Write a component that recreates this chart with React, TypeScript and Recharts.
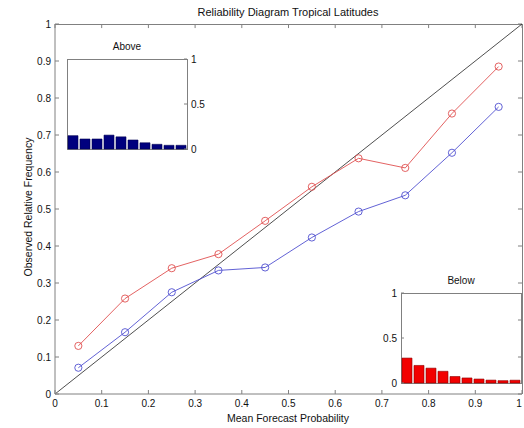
import React from 'react';
import { ComposedChart, BarChart, Bar, Line, XAxis, YAxis, ReferenceLine } from 'recharts';

// bin centres of the forecast probability
const binCenters = [0.05, 0.15, 0.25, 0.35, 0.45, 0.55, 0.65, 0.75, 0.85, 0.95];
// observed relative frequency, red and blue curves
const redFreq = [0.13, 0.258, 0.34, 0.378, 0.468, 0.56, 0.637, 0.611, 0.758, 0.885];
const blueFreq = [0.071, 0.167, 0.275, 0.334, 0.342, 0.423, 0.493, 0.537, 0.652, 0.776];
// inset histograms (share of forecasts per bin)
const aboveCounts = [0.148, 0.111, 0.111, 0.154, 0.135, 0.1, 0.069, 0.052, 0.041, 0.041];
const belowCounts = [0.277, 0.195, 0.165, 0.13, 0.072, 0.056, 0.044, 0.032, 0.026, 0.031];

const mainTicks = [0, 0.1, 0.2, 0.3, 0.4, 0.5, 0.6, 0.7, 0.8, 0.9, 1];
const insetTicks = [0, 0.5, 1];

const FONT = '"Liberation Sans", Arial, sans-serif';
const AXIS = '#808080';
const RED = '#e05050';
const BLUE = '#5050d0';

const mainData = binCenters.map((p, i) => ({ p, red: redFreq[i], blue: blueFreq[i] }));
const aboveData = binCenters.map((p, i) => ({ p, v: aboveCounts[i] }));
const belowData = binCenters.map((p, i) => ({ p, v: belowCounts[i] }));

const tickStyle = { fontSize: 10, fill: '#111', fontFamily: FONT };

// bottom tick label; the last one is nudged so it stays inside the picture
const BottomTick = ({ x, y, payload }: any) => (
  <text x={payload.value === 1 ? x - 3 : x} y={y} dy="0.71em" textAnchor="middle" {...tickStyle}>
    {String(payload.value)}
  </text>
);

// small histogram drawn over the main plot; plotLeft/plotTop is the inner box
const Inset = ({ data, plotLeft, plotTop, title, color, edge, side }: any) => {
  const left = side === 'left' ? plotLeft - 30 : plotLeft;
  return (
    <>
      <div style={{ position: 'absolute', left: plotLeft, top: plotTop - 18, width: 120, textAlign: 'center', fontSize: 10, lineHeight: '12px' }}>
        {title}
      </div>
      <div style={{ position: 'absolute', left: plotLeft, top: plotTop, width: 121, height: 91, boxSizing: 'border-box', border: `1px solid ${AXIS}` }} />
      <div style={{ position: 'absolute', left, top: plotTop - 6 }}>
        <BarChart width={150} height={102} data={data} margin={{ top: 6, right: 0, bottom: 6, left: 0 }} barCategoryGap={1}>
          <XAxis dataKey="p" hide />
          <YAxis
            orientation={side}
            type="number"
            domain={[0, 1]}
            ticks={insetTicks}
            width={30}
            tick={tickStyle}
            tickSize={-3}
            tickMargin={7}
            tickLine={{ stroke: AXIS }}
            axisLine={false}
            tickFormatter={(v: number) => String(v)}
          />
          <Bar dataKey="v" fill={color} stroke={edge} strokeWidth={0.6} isAnimationActive={false} />
        </BarChart>
      </div>
    </>
  );
};

export default function App() {
  return (
    <div style={{ position: 'absolute', left: 0, top: 0, width: 524, height: 428, background: '#fff', fontFamily: FONT, color: '#111', overflow: 'hidden' }}>
      <div style={{ position: 'absolute', left: 0, top: 5, width: 576, textAlign: 'center', fontSize: 11, lineHeight: '14px' }}>
        Reliability Diagram Tropical Latitudes
      </div>
      <div style={{ position: 'absolute', left: 0, top: 411, width: 576, textAlign: 'center', fontSize: 10.5, lineHeight: '14px' }}>
        Mean Forecast Probability
      </div>
      <div style={{ position: 'absolute', left: -72, top: 200, width: 200, height: 14, textAlign: 'center', fontSize: 10.5, lineHeight: '14px', transform: 'rotate(-90deg)' }}>
        Observed Relative Frequency
      </div>
      {/* top and right edges of the axes box */}
      <div style={{ position: 'absolute', left: 55, top: 24, width: 468, height: 370, boxSizing: 'border-box', borderTop: `1px solid ${AXIS}`, borderRight: `1px solid ${AXIS}` }} />
      <div style={{ position: 'absolute', left: 0, top: 0 }}>
        <ComposedChart width={524} height={428} data={mainData} margin={{ top: 24, right: 2, bottom: 4, left: 0 }}>
          <XAxis
            dataKey="p"
            type="number"
            domain={[0, 1]}
            ticks={mainTicks}
            height={30}
            tick={<BottomTick />}
            tickSize={-4}
            tickMargin={10}
            tickLine={{ stroke: AXIS }}
            axisLine={{ stroke: AXIS }}
            interval={0}
          />
          <YAxis
            type="number"
            domain={[0, 1]}
            ticks={mainTicks}
            width={55}
            tick={tickStyle}
            tickSize={-4}
            tickMargin={8}
            tickLine={{ stroke: AXIS }}
            axisLine={{ stroke: AXIS }}
            tickFormatter={(v: number) => String(v)}
            interval={0}
          />
          {/* inward ticks on the top and right edges */}
          {mainTicks.map((t) => (
            <ReferenceLine key={'t' + t} segment={[{ x: t, y: 1 }, { x: t, y: 0.989 }]} stroke={AXIS} ifOverflow="visible" />
          ))}
          {mainTicks.map((t) => (
            <ReferenceLine key={'r' + t} segment={[{ x: 1, y: t }, { x: 0.9914, y: t }]} stroke={AXIS} ifOverflow="visible" />
          ))}
          <ReferenceLine segment={[{ x: 0, y: 0 }, { x: 1, y: 1 }]} stroke="#222" strokeWidth={0.8} />
          <Line dataKey="red" stroke={RED} strokeWidth={0.9} dot={{ r: 3.6, fill: 'none', stroke: RED, strokeWidth: 0.9 }} isAnimationActive={false} />
          <Line dataKey="blue" stroke={BLUE} strokeWidth={0.9} dot={{ r: 3.6, fill: 'none', stroke: BLUE, strokeWidth: 0.9 }} isAnimationActive={false} />
        </ComposedChart>
      </div>
      <Inset data={aboveData} plotLeft={67} plotTop={59} title="Above" color="#00007e" edge="#000050" side="right" />
      <Inset data={belowData} plotLeft={401} plotTop={293} title="Below" color="#f20000" edge="#8a0000" side="left" />
    </div>
  );
}
